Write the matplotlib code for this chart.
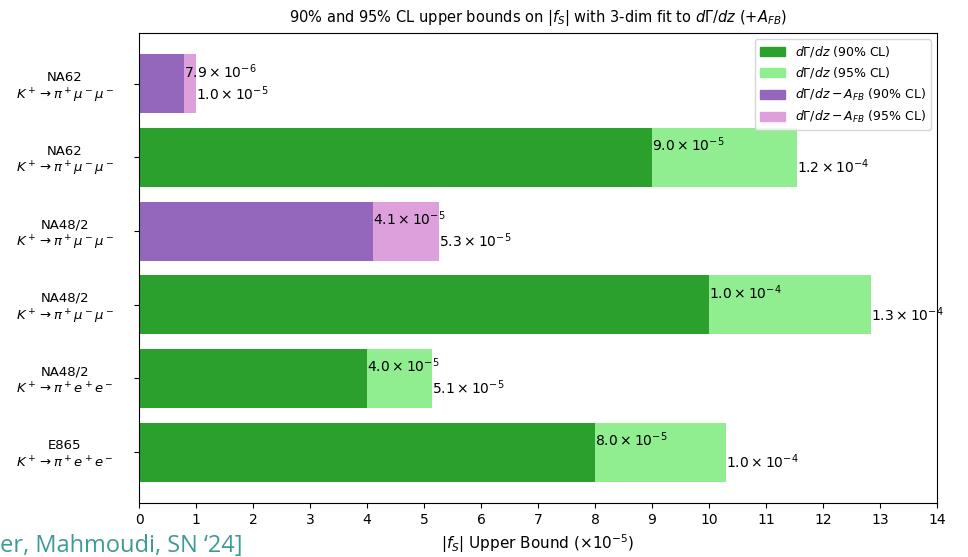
import numpy as np
import matplotlib
matplotlib.use("Agg")
from matplotlib import pyplot as plt
from matplotlib.patches import Patch

# Bar rows from bottom to top
experiments = ["E865", "NA48/2", "NA48/2", "NA48/2", "NA62", "NA62"]
decays = [r"$K^+\rightarrow\pi^+e^+e^-$", r"$K^+\rightarrow\pi^+e^+e^-$",
          r"$K^+\rightarrow\pi^+\mu^-\mu^-$", r"$K^+\rightarrow\pi^+\mu^-\mu^-$",
          r"$K^+\rightarrow\pi^+\mu^-\mu^-$", r"$K^+\rightarrow\pi^+\mu^-\mu^-$"]
# fit type: 0 = dGamma/dz, 1 = dGamma/dz - A_FB
fit_type = [0, 0, 0, 1, 0, 1]
# upper bounds in units of 1e-5
cl90 = [8.0, 4.0, 10.0, 4.1, 9.0, 0.79]
cl95 = [10.3, 5.14, 12.85, 5.27, 11.55, 1.0]

colors90 = ["#2ca02c", "#9467bd"]
colors95 = ["#90ee90", "#dda0dd"]
legend_labels = [r"$d\Gamma/dz$ (90% CL)", r"$d\Gamma/dz$ (95% CL)",
                 r"$d\Gamma/dz - A_{FB}$ (90% CL)", r"$d\Gamma/dz - A_{FB}$ (95% CL)"]


def sci(v):
    # v in units of 1e-5
    x = v * 1e-5
    e = int(np.floor(np.log10(x)))
    m = x / 10 ** e
    return r"$%.1f \times 10^{%d}$" % (m, e)


fig = plt.figure(figsize=(9.68, 5.57), dpi=100)
ax = fig.add_axes([0.1436, 0.097, 0.8244, 0.8438])

y = np.arange(len(experiments))
c95 = [colors95[t] for t in fit_type]
c90 = [colors90[t] for t in fit_type]
ax.barh(y, cl95, color=c95, height=0.8)
ax.barh(y, cl90, color=c90, height=0.8)

for i in range(len(y)):
    ax.text(cl90[i], y[i] + 0.17, sci(cl90[i]), ha="left", va="center", fontsize=10)
    ax.text(cl95[i], y[i] - 0.13, sci(cl95[i]), ha="left", va="center", fontsize=10)

ax.set_yticks(y)
ax.set_yticklabels([e + "\n" + d for e, d in zip(experiments, decays)],
                   fontsize=9.5, ha="center")
ax.tick_params(axis="y", pad=50)
ax.set_xlim(0, 14)
ax.set_xticks(np.arange(0, 15))
ax.tick_params(axis="x", labelsize=10)
ax.set_xlabel(r"$|f_S|$ Upper Bound ($\times 10^{-5}$)", fontsize=11)
ax.set_title(r"90% and 95% CL upper bounds on $|f_S|$ with 3-dim fit to $d\Gamma/dz$ (+$A_{FB}$)",
             fontsize=10.5, pad=8)

handles = [Patch(color=colors90[0]), Patch(color=colors95[0]),
           Patch(color=colors90[1]), Patch(color=colors95[1])]
ax.legend(handles, legend_labels, loc="upper right", fontsize=9)

fig.text(0.0, -0.002, "er, Mahmoudi, SN \u201824]", color="#3e9a96",
         fontsize=17, family="Open Sans", ha="left", va="bottom")

fig.savefig("out.png", dpi=100)
